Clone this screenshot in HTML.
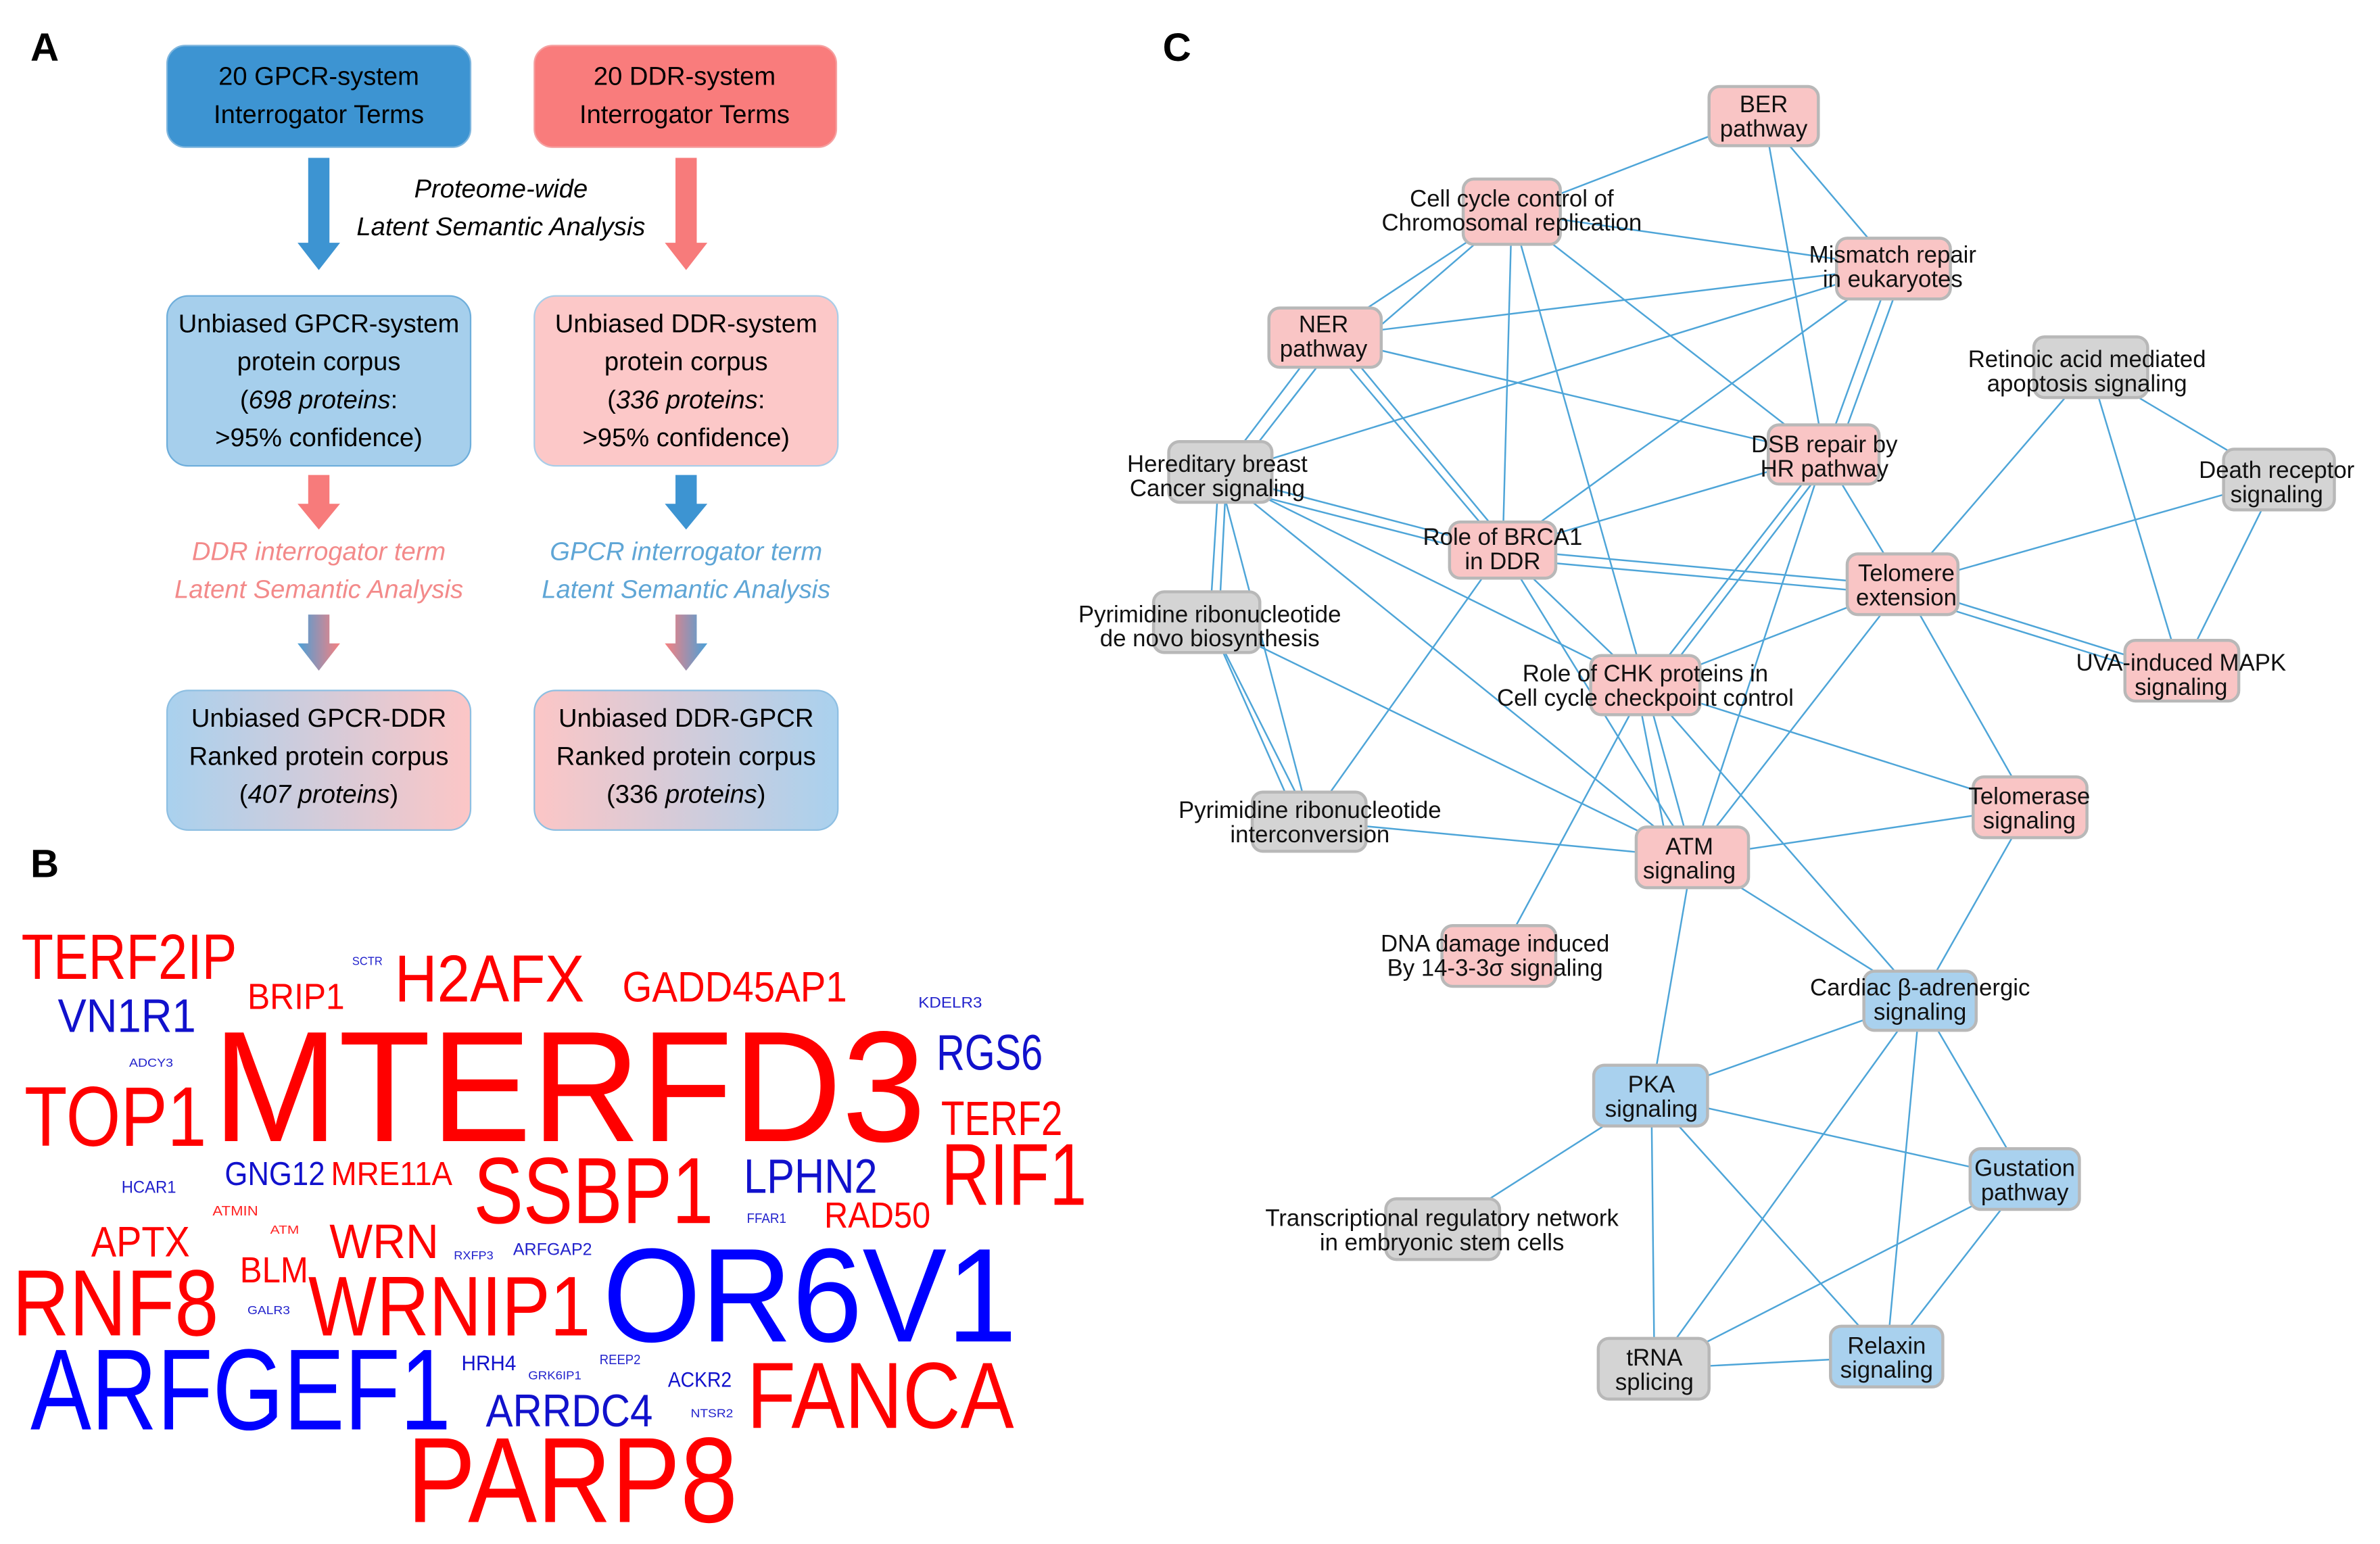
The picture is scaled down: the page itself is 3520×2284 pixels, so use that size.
<!DOCTYPE html>
<html><head><meta charset="utf-8"><style>
html,body{margin:0;padding:0;background:#fff;}
svg{display:block;font-family:"Liberation Sans",sans-serif;}
</style></head><body>
<svg width="3520" height="2284" viewBox="0 0 1568 1017.5" xmlns="http://www.w3.org/2000/svg">
<defs>
<linearGradient id="g1" x1="0" y1="0" x2="1" y2="0"><stop offset="0" stop-color="#a9d1ee"/><stop offset="1" stop-color="#fcc6c6"/></linearGradient>
<linearGradient id="g2" x1="0" y1="0" x2="1" y2="0"><stop offset="0" stop-color="#fcc6c6"/><stop offset="1" stop-color="#a9d1ee"/></linearGradient>
<linearGradient id="ga1" x1="0" y1="0" x2="1" y2="0"><stop offset="0" stop-color="#4aa0d8"/><stop offset="1" stop-color="#f78080"/></linearGradient>
<linearGradient id="ga2" x1="0" y1="0" x2="1" y2="0"><stop offset="0" stop-color="#f78080"/><stop offset="1" stop-color="#4aa0d8"/></linearGradient>
</defs>
<rect width="1568" height="1018" fill="#fff"/>
<!-- Panel labels -->
<text x="20" y="40" font-size="26" font-weight="bold">A</text>
<text x="20" y="578" font-size="26" font-weight="bold">B</text>
<text x="766" y="40" font-size="26" font-weight="bold">C</text>

<!-- Panel A -->
<g font-size="17" text-anchor="middle">
<rect x="110" y="30" width="200" height="67" rx="12" fill="#3d94d2" stroke="#7fb6de"/>
<text x="210" y="56">20 GPCR-system</text><text x="210" y="81">Interrogator Terms</text>
<rect x="352" y="30" width="199" height="67" rx="12" fill="#f97c7c" stroke="#f5a0a0"/>
<text x="451" y="56">20 DDR-system</text><text x="451" y="81">Interrogator Terms</text>
<polygon points="203,104 217,104 217,160 224,160 210,178 196,160 203,160" fill="#3d94d2"/>
<polygon points="445,104 459,104 459,160 466,160 452,178 438,160 445,160" fill="#f77b7b"/>
<text x="330" y="130" font-style="italic">Proteome-wide</text>
<text x="330" y="155" font-style="italic">Latent Semantic Analysis</text>
<rect x="110" y="195" width="200" height="112" rx="14" fill="#a6cfec" stroke="#6eaedb"/>
<text x="210" y="219">Unbiased GPCR-system</text><text x="210" y="244">protein corpus</text>
<text x="210" y="269">(<tspan font-style="italic">698 proteins</tspan>:</text><text x="210" y="294">&gt;95% confidence)</text>
<rect x="352" y="195" width="200" height="112" rx="14" fill="#fcc8c8" stroke="#a9cde8"/>
<text x="452" y="219">Unbiased DDR-system</text><text x="452" y="244">protein corpus</text>
<text x="452" y="269">(<tspan font-style="italic">336 proteins</tspan>:</text><text x="452" y="294">&gt;95% confidence)</text>
<polygon points="203,313 217,313 217,332 224,332 210,349 196,332 203,332" fill="#f77b7b"/>
<polygon points="445,313 459,313 459,332 466,332 452,349 438,332 445,332" fill="#3d94d2"/>
<text x="210" y="369" font-style="italic" fill="#f38a8a">DDR interrogator term</text>
<text x="210" y="394" font-style="italic" fill="#f38a8a">Latent Semantic Analysis</text>
<text x="452" y="369" font-style="italic" fill="#5fa6d6">GPCR interrogator term</text>
<text x="452" y="394" font-style="italic" fill="#5fa6d6">Latent Semantic Analysis</text>
<polygon points="203,405 217,405 217,424 224,424 210,442 196,424 203,424" fill="url(#ga1)"/>
<polygon points="445,405 459,405 459,424 466,424 452,442 438,424 445,424" fill="url(#ga2)"/>
<rect x="110" y="455" width="200" height="92" rx="14" fill="url(#g1)" stroke="#8ebfe2"/>
<text x="210" y="479">Unbiased GPCR-DDR</text><text x="210" y="504">Ranked protein corpus</text>
<text x="210" y="529">(<tspan font-style="italic">407 proteins</tspan>)</text>
<rect x="352" y="455" width="200" height="92" rx="14" fill="url(#g2)" stroke="#8ebfe2"/>
<text x="452" y="479">Unbiased DDR-GPCR</text><text x="452" y="504">Ranked protein corpus</text>
<text x="452" y="529">(336 <tspan font-style="italic">proteins</tspan>)</text>
</g>

<!-- Panel B word cloud -->
<g lengthAdjust="spacingAndGlyphs">
<text x="14" y="645" font-size="42" fill="#f00" textLength="142" lengthAdjust="spacingAndGlyphs">TERF2IP</text>
<text x="163" y="665" font-size="24" fill="#f00" textLength="64" lengthAdjust="spacingAndGlyphs">BRIP1</text>
<text x="232" y="636" font-size="8" fill="#22c" textLength="20" lengthAdjust="spacingAndGlyphs">SCTR</text>
<text x="260" y="660" font-size="44" fill="#f00" textLength="125" lengthAdjust="spacingAndGlyphs">H2AFX</text>
<text x="410" y="660" font-size="28" fill="#f00" textLength="148" lengthAdjust="spacingAndGlyphs">GADD45AP1</text>
<text x="605" y="664" font-size="10" fill="#22c" textLength="42" lengthAdjust="spacingAndGlyphs">KDELR3</text>
<text x="38" y="680" font-size="31" fill="#11c" textLength="91" lengthAdjust="spacingAndGlyphs">VN1R1</text>
<text x="140" y="752" font-size="104" fill="#f00" textLength="470" lengthAdjust="spacingAndGlyphs">MTERFD3</text>
<text x="617" y="705" font-size="33" fill="#11c" textLength="70" lengthAdjust="spacingAndGlyphs">RGS6</text>
<text x="85" y="703" font-size="8" fill="#22c" textLength="29" lengthAdjust="spacingAndGlyphs">ADCY3</text>
<text x="16" y="755" font-size="56" fill="#f00" textLength="120" lengthAdjust="spacingAndGlyphs">TOP1</text>
<text x="620" y="748" font-size="32" fill="#f00" textLength="80" lengthAdjust="spacingAndGlyphs">TERF2</text>
<text x="148" y="781" font-size="22" fill="#11c" textLength="66" lengthAdjust="spacingAndGlyphs">GNG12</text>
<text x="218" y="781" font-size="22" fill="#f00" textLength="80" lengthAdjust="spacingAndGlyphs">MRE11A</text>
<text x="312" y="806" font-size="62" fill="#f00" textLength="158" lengthAdjust="spacingAndGlyphs">SSBP1</text>
<text x="490" y="786" font-size="32" fill="#11c" textLength="88" lengthAdjust="spacingAndGlyphs">LPHN2</text>
<text x="620" y="794" font-size="58" fill="#f00" textLength="96" lengthAdjust="spacingAndGlyphs">RIF1</text>
<text x="80" y="786" font-size="11" fill="#22c" textLength="36" lengthAdjust="spacingAndGlyphs">HCAR1</text>
<text x="140" y="801" font-size="9" fill="#f22" textLength="30" lengthAdjust="spacingAndGlyphs">ATMIN</text>
<text x="178" y="813" font-size="8" fill="#f22" textLength="19" lengthAdjust="spacingAndGlyphs">ATM</text>
<text x="543" y="809" font-size="24" fill="#f00" textLength="70" lengthAdjust="spacingAndGlyphs">RAD50</text>
<text x="492" y="806" font-size="9" fill="#22c" textLength="26" lengthAdjust="spacingAndGlyphs">FFAR1</text>
<text x="60" y="828" font-size="28" fill="#f00" textLength="65" lengthAdjust="spacingAndGlyphs">APTX</text>
<text x="217" y="829" font-size="32" fill="#f00" textLength="72" lengthAdjust="spacingAndGlyphs">WRN</text>
<text x="299" y="830" font-size="8" fill="#22c" textLength="26" lengthAdjust="spacingAndGlyphs">RXFP3</text>
<text x="338" y="827" font-size="11" fill="#22c" textLength="52" lengthAdjust="spacingAndGlyphs">ARFGAP2</text>
<text x="158" y="845" font-size="24" fill="#f00" textLength="45" lengthAdjust="spacingAndGlyphs">BLM</text>
<text x="397" y="884" font-size="88" fill="#00f" textLength="273" lengthAdjust="spacingAndGlyphs">OR6V1</text>
<text x="8" y="880" font-size="62" fill="#f00" textLength="136" lengthAdjust="spacingAndGlyphs">RNF8</text>
<text x="203" y="880" font-size="56" fill="#f00" textLength="186" lengthAdjust="spacingAndGlyphs">WRNIP1</text>
<text x="163" y="866" font-size="8" fill="#22c" textLength="28" lengthAdjust="spacingAndGlyphs">GALR3</text>
<text x="20" y="942" font-size="76" fill="#00f" textLength="277" lengthAdjust="spacingAndGlyphs">ARFGEF1</text>
<text x="304" y="903" font-size="14" fill="#11c" textLength="36" lengthAdjust="spacingAndGlyphs">HRH4</text>
<text x="348" y="909" font-size="8" fill="#22c" textLength="35" lengthAdjust="spacingAndGlyphs">GRK6IP1</text>
<text x="395" y="899" font-size="9" fill="#22c" textLength="27" lengthAdjust="spacingAndGlyphs">REEP2</text>
<text x="440" y="914" font-size="14" fill="#11c" textLength="42" lengthAdjust="spacingAndGlyphs">ACKR2</text>
<text x="455" y="934" font-size="8" fill="#22c" textLength="28" lengthAdjust="spacingAndGlyphs">NTSR2</text>
<text x="320" y="940" font-size="30" fill="#11c" textLength="110" lengthAdjust="spacingAndGlyphs">ARRDC4</text>
<text x="492" y="941" font-size="62" fill="#f00" textLength="176" lengthAdjust="spacingAndGlyphs">FANCA</text>
<text x="268" y="1003" font-size="80" fill="#f00" textLength="218" lengthAdjust="spacingAndGlyphs">PARP8</text>
</g>

<!-- Panel C edges -->
<g stroke="#4ea5d8" stroke-width="1.1" fill="none">
<line x1="1162" y1="76" x2="996" y2="140"/>
<line x1="1162" y1="76" x2="1247" y2="176"/>
<line x1="1162" y1="76" x2="1202" y2="300"/>
<line x1="996" y1="140" x2="1247" y2="176"/>
<line x1="996" y1="140" x2="872" y2="222"/>
<line x1="990" y1="145" x2="880" y2="240"/>
<line x1="996" y1="140" x2="990" y2="362"/>
<line x1="996" y1="140" x2="1084" y2="452"/>
<line x1="996" y1="140" x2="1202" y2="300"/>
<line x1="872" y1="222" x2="1247" y2="176"/>
<line x1="872" y1="222" x2="1202" y2="300"/>
<line x1="872" y1="222" x2="803" y2="313"/>
<line x1="880" y1="226" x2="810" y2="316"/>
<line x1="872" y1="222" x2="990" y2="362"/>
<line x1="880" y1="222" x2="996" y2="362"/>
<line x1="1247" y1="176" x2="803" y2="313"/>
<line x1="1247" y1="176" x2="990" y2="362"/>
<line x1="1247" y1="176" x2="1202" y2="300"/>
<line x1="1255" y1="176" x2="1210" y2="300"/>
<line x1="803" y1="313" x2="990" y2="362"/>
<line x1="803" y1="320" x2="990" y2="368"/>
<line x1="803" y1="313" x2="797" y2="410"/>
<line x1="808" y1="313" x2="803" y2="410"/>
<line x1="803" y1="313" x2="1084" y2="452"/>
<line x1="803" y1="313" x2="1115" y2="565"/>
<line x1="803" y1="313" x2="863" y2="541"/>
<line x1="1202" y1="300" x2="990" y2="362"/>
<line x1="1202" y1="300" x2="1084" y2="452"/>
<line x1="1208" y1="300" x2="1092" y2="452"/>
<line x1="1202" y1="300" x2="1254" y2="386"/>
<line x1="1202" y1="300" x2="1115" y2="565"/>
<line x1="990" y1="362" x2="1254" y2="386"/>
<line x1="990" y1="368" x2="1254" y2="392"/>
<line x1="990" y1="362" x2="1084" y2="452"/>
<line x1="990" y1="362" x2="1115" y2="565"/>
<line x1="990" y1="362" x2="863" y2="541"/>
<line x1="1254" y1="386" x2="1377" y2="243"/>
<line x1="1254" y1="386" x2="1500" y2="316"/>
<line x1="1254" y1="386" x2="1437" y2="443"/>
<line x1="1254" y1="392" x2="1437" y2="449"/>
<line x1="1254" y1="386" x2="1084" y2="452"/>
<line x1="1254" y1="386" x2="1337" y2="532"/>
<line x1="1254" y1="386" x2="1115" y2="565"/>
<line x1="1377" y1="243" x2="1500" y2="316"/>
<line x1="1377" y1="243" x2="1437" y2="443"/>
<line x1="1500" y1="316" x2="1437" y2="443"/>
<line x1="797" y1="410" x2="863" y2="541"/>
<line x1="797" y1="410" x2="855" y2="541"/>
<line x1="797" y1="410" x2="1115" y2="565"/>
<line x1="1084" y1="452" x2="1115" y2="565"/>
<line x1="1078" y1="452" x2="1100" y2="565"/>
<line x1="1084" y1="452" x2="1337" y2="532"/>
<line x1="1084" y1="452" x2="988" y2="630"/>
<line x1="1084" y1="452" x2="1265" y2="659"/>
<line x1="863" y1="541" x2="1115" y2="565"/>
<line x1="1115" y1="565" x2="1337" y2="532"/>
<line x1="1115" y1="565" x2="1088" y2="722"/>
<line x1="1115" y1="565" x2="1265" y2="659"/>
<line x1="1337" y1="532" x2="1265" y2="659"/>
<line x1="1265" y1="659" x2="1088" y2="722"/>
<line x1="1265" y1="659" x2="1334" y2="777"/>
<line x1="1265" y1="659" x2="1243" y2="894"/>
<line x1="1265" y1="659" x2="1090" y2="902"/>
<line x1="1088" y1="722" x2="950" y2="810"/>
<line x1="1088" y1="722" x2="1334" y2="777"/>
<line x1="1088" y1="722" x2="1243" y2="894"/>
<line x1="1088" y1="722" x2="1090" y2="902"/>
<line x1="1334" y1="777" x2="1090" y2="902"/>
<line x1="1334" y1="777" x2="1243" y2="894"/>
<line x1="1090" y1="902" x2="1243" y2="894"/>
</g>

<!-- Panel C nodes -->
<g stroke="#b8b8b8" stroke-width="2">
<rect x="1126" y="57" width="72" height="39" rx="7" fill="#f9c5c5"/>
<rect x="964" y="118" width="64" height="43" rx="7" fill="#f9c5c5"/>
<rect x="1210" y="157" width="75" height="40" rx="7" fill="#f9c5c5"/>
<rect x="836" y="203" width="74" height="39" rx="7" fill="#f9c5c5"/>
<rect x="1340" y="222" width="75" height="40" rx="7" fill="#d4d4d4"/>
<rect x="770" y="291" width="68" height="40" rx="7" fill="#d4d4d4"/>
<rect x="1165" y="280" width="73" height="39" rx="7" fill="#f9c5c5"/>
<rect x="1465" y="296" width="73" height="40" rx="7" fill="#d4d4d4"/>
<rect x="955" y="344" width="70" height="37" rx="7" fill="#f9c5c5"/>
<rect x="1217" y="365" width="73" height="40" rx="7" fill="#f9c5c5"/>
<rect x="760" y="390" width="70" height="40" rx="7" fill="#d4d4d4"/>
<rect x="1048" y="432" width="72" height="39" rx="7" fill="#f9c5c5"/>
<rect x="1400" y="422" width="75" height="40" rx="7" fill="#f9c5c5"/>
<rect x="825" y="522" width="75" height="39" rx="7" fill="#d4d4d4"/>
<rect x="1300" y="512" width="75" height="40" rx="7" fill="#f9c5c5"/>
<rect x="1078" y="545" width="74" height="40" rx="7" fill="#f9c5c5"/>
<rect x="950" y="610" width="75" height="40" rx="7" fill="#f9c5c5"/>
<rect x="1228" y="640" width="74" height="39" rx="7" fill="#a9d1ee"/>
<rect x="1050" y="702" width="75" height="40" rx="7" fill="#a9d1ee"/>
<rect x="1298" y="757" width="72" height="40" rx="7" fill="#a9d1ee"/>
<rect x="913" y="790" width="75" height="40" rx="7" fill="#d4d4d4"/>
<rect x="1053" y="882" width="73" height="40" rx="7" fill="#d4d4d4"/>
<rect x="1206" y="874" width="74" height="40" rx="7" fill="#a9d1ee"/>
</g>

<!-- Panel C labels -->
<g font-size="15.5" text-anchor="middle" fill="#111">
<text x="1162" y="74">BER</text><text x="1162" y="90">pathway</text>
<text x="996" y="136">Cell cycle control of</text><text x="996" y="152">Chromosomal replication</text>
<text x="1247" y="173">Mismatch repair</text><text x="1247" y="189">in eukaryotes</text>
<text x="872" y="219">NER</text><text x="872" y="235">pathway</text>
<text x="1375" y="242">Retinoic acid mediated</text><text x="1375" y="258">apoptosis signaling</text>
<text x="802" y="311">Hereditary breast</text><text x="802" y="327">Cancer signaling</text>
<text x="1202" y="298">DSB repair by</text><text x="1202" y="314">HR pathway</text>
<text x="1500" y="315">Death receptor</text><text x="1500" y="331">signaling</text>
<text x="990" y="359">Role of BRCA1</text><text x="990" y="375">in DDR</text>
<text x="1256" y="383">Telomere</text><text x="1256" y="399">extension</text>
<text x="797" y="410">Pyrimidine ribonucleotide</text><text x="797" y="426">de novo biosynthesis</text>
<text x="1084" y="449">Role of CHK proteins in</text><text x="1084" y="465">Cell cycle checkpoint control</text>
<text x="1437" y="442">UVA-induced MAPK</text><text x="1437" y="458">signaling</text>
<text x="863" y="539">Pyrimidine ribonucleotide</text><text x="863" y="555">interconversion</text>
<text x="1337" y="530">Telomerase</text><text x="1337" y="546">signaling</text>
<text x="1113" y="563">ATM</text><text x="1113" y="579">signaling</text>
<text x="985" y="627">DNA damage induced</text><text x="985" y="643">By 14-3-3σ signaling</text>
<text x="1265" y="656">Cardiac β-adrenergic</text><text x="1265" y="672">signaling</text>
<text x="1088" y="720">PKA</text><text x="1088" y="736">signaling</text>
<text x="1334" y="775">Gustation</text><text x="1334" y="791">pathway</text>
<text x="950" y="808">Transcriptional regulatory network</text><text x="950" y="824">in embryonic stem cells</text>
<text x="1090" y="900">tRNA</text><text x="1090" y="916">splicing</text>
<text x="1243" y="892">Relaxin</text><text x="1243" y="908">signaling</text>
</g>
</svg>
</body></html>
